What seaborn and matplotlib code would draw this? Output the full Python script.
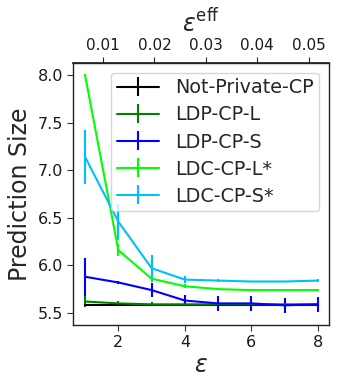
import numpy as np
import pandas as pd
import matplotlib
matplotlib.use("Agg")
import matplotlib.pyplot as plt
import seaborn as sns

eps = [1, 2, 3, 4, 5, 6, 7, 8]
methods = ["Not-Private-CP", "LDP-CP-L", "LDP-CP-S", "LDC-CP-L*", "LDC-CP-S*"]
colors = ["black", "green", "blue", "lime", "deepskyblue"]

not_private = [5.58, 5.58, 5.58, 5.58, 5.58, 5.58, 5.58, 5.58]
not_private_err = [0.01, 0.01, 0.01, 0.01, 0.01, 0.01, 0.01, 0.01]
ldp_l = [5.62, 5.60, 5.59, 5.59, 5.59, 5.59, 5.59, 5.59]
ldp_l_err = [0.06, 0.03, 0.02, 0.02, 0.02, 0.02, 0.02, 0.02]
ldp_s = [5.88, 5.82, 5.74, 5.63, 5.60, 5.60, 5.58, 5.59]
ldp_s_err = [0.20, 0.02, 0.07, 0.06, 0.08, 0.08, 0.08, 0.08]
ldc_l = [8.00, 6.16, 5.86, 5.78, 5.75, 5.74, 5.74, 5.74]
ldc_l_err = [0.01, 0.06, 0.02, 0.02, 0.01, 0.01, 0.01, 0.01]
ldc_s = [7.14, 6.46, 5.97, 5.85, 5.84, 5.83, 5.83, 5.84]
ldc_s_err = [0.28, 0.19, 0.14, 0.04, 0.02, 0.01, 0.01, 0.02]

series = [(not_private, not_private_err), (ldp_l, ldp_l_err), (ldp_s, ldp_s_err),
          (ldc_l, ldc_l_err), (ldc_s, ldc_s_err)]

rows = []
for m, (vals, errs) in zip(methods, series):
    for e, v, s in zip(eps, vals, errs):
        rows.append({"eps": e, "size": v, "err": s, "method": m})
df = pd.DataFrame(rows)

sns.set_theme(style="ticks")
plt.rcParams['font.family'] = ['DejaVu Sans']

fig = plt.figure(figsize=(3.43, 3.8), dpi=100)
ax = fig.add_axes([0.214, 0.145, 0.745, 0.689])

for m, c in zip(methods, colors):
    d = df[df["method"] == m]
    ax.errorbar(d["eps"], d["size"], yerr=d["err"], color=c, label=m, linewidth=1.5,
                elinewidth=1.5)

ax.set_xlim(0.65, 8.33)
ax.set_ylim(5.374, 8.126)
ax.set_yticks([5.5, 6.0, 6.5, 7.0, 7.5, 8.0])
ax.set_xticks([2, 4, 6, 8])
ax.tick_params(labelsize=11.5, length=4, width=0.8, color="#333333", labelcolor="#1a1a1a")
for sp in ax.spines.values():
    sp.set_linewidth(1.0)
    sp.set_color("#222222")
ax.set_xlabel(r"$\varepsilon$", fontsize=17, labelpad=2)
ax.set_ylabel("Prediction Size", fontsize=17, labelpad=4)

k = 0.00648
sec = ax.secondary_xaxis("top", functions=(lambda x: x * k, lambda x: x / k))
sec.set_xticks([0.01, 0.02, 0.03, 0.04, 0.05])
sec.tick_params(labelsize=11, length=4, width=0.8, labelcolor="#1a1a1a")
sec.set_xlabel(r"$\varepsilon^{\mathrm{eff}}$", fontsize=17, labelpad=4)

ax.legend(loc="upper right", fontsize=13.8, frameon=True, borderaxespad=0.5,
          handlelength=2.18, handletextpad=0.84, labelspacing=0.42, borderpad=0.3)

fig.savefig("out.png", dpi=100)
